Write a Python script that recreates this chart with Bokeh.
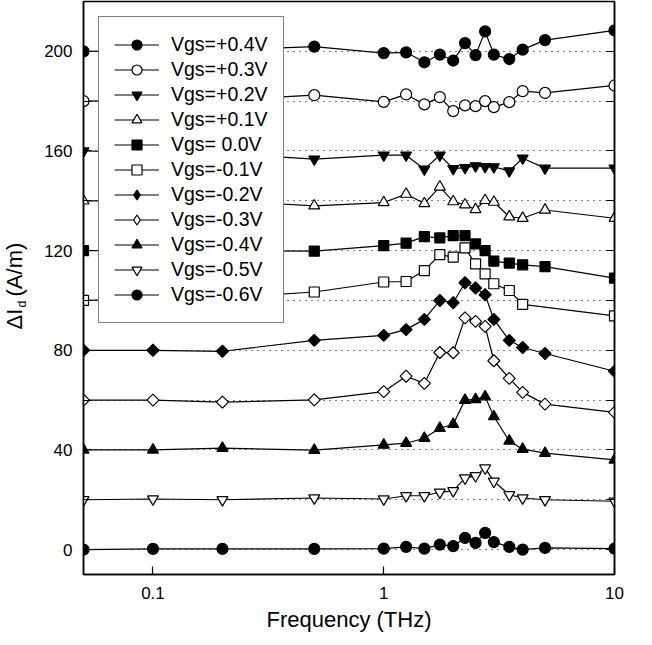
import math
from bokeh.plotting import figure
from bokeh.models import (Range1d, FixedTicker, LinearAxis, Legend, LegendItem,
                          Label, CustomJSTickFormatter, CustomLabelingPolicy)
from bokeh.embed import file_html
from bokeh.resources import INLINE

# ---------------- data ----------------
freq = [0.05, 0.1, 0.2, 0.5, 1, 1.25, 1.5, 1.75, 2, 2.25, 2.5, 2.75, 3, 3.5, 4, 5, 10]

vgs_p04 = [200, 200.3, 200.5, 201.9, 199.3, 199.6, 195.6, 198.7, 196.3, 203.3, 198.5, 208, 198.7, 196.9, 200.7, 204.5, 208.4]
vgs_p03 = [180, 180.3, 180.5, 182.4, 179.7, 182.7, 178.7, 181.6, 176, 178.3, 178, 180, 177.6, 179.6, 184, 183.3, 186.3]
vgs_p02 = [160, 159.5, 159, 156.7, 158.3, 158.3, 152.7, 158.3, 152.9, 153.3, 154, 153.7, 153.6, 152, 157.1, 153.1, 153.1]
vgs_p01 = [140, 140, 140, 138, 139.3, 142.7, 138.9, 145.6, 139.7, 138.4, 136.5, 140.2, 139.5, 133.6, 133, 136.3, 133]
vgs_000 = [120, 120, 120, 119.8, 122, 123, 125.6, 125.1, 126, 126, 122.7, 120, 115.8, 115, 114.3, 113.6, 109]
vgs_m01 = [100, 100.5, 101, 103.4, 107.4, 107.6, 112, 118.4, 117.4, 121.1, 114.7, 110.7, 106.7, 104, 98.4, None, 93.8]
vgs_m02 = [80, 80, 79.6, 84, 86, 88.3, 92.4, 100, 99.1, 107.1, 105, 102.3, 92.4, 84, 81.1, 78.7, 71.6]
vgs_m03 = [60, 60, 59.2, 60.1, 63.4, 69.6, 66.7, 79.1, 79, 93, 91.6, 89.6, 75.8, 68.7, 63.1, 58.4, 55.1]
vgs_m04 = [40, 40, 40.7, 39.9, 42, 42.7, 44.7, 48.7, 50.3, 60, 60.3, 61.4, 53.4, 43.6, 40.3, 38.7, 36]
vgs_m05 = [20, 20.3, 20, 20.7, 20.3, 21.6, 21.6, 23, 23.6, 28.7, 29.6, 32.7, 27.4, 22, 20.7, 20, 19.4]
vgs_m06 = [0, 0.3, 0.3, 0.3, 0.4, 1.1, 0.4, 2, 1.4, 4.7, 2.7, 6.7, 3, 1.1, 0, 0.7, 0.4]

series_labels = ["Vgs=+0.4V", "Vgs=+0.3V", "Vgs=+0.2V", "Vgs=+0.1V", "Vgs= 0.0V",
                 "Vgs=-0.1V", "Vgs=-0.2V", "Vgs=-0.3V", "Vgs=-0.4V", "Vgs=-0.5V", "Vgs=-0.6V"]
series_values = [vgs_p04, vgs_p03, vgs_p02, vgs_p01, vgs_000,
                 vgs_m01, vgs_m02, vgs_m03, vgs_m04, vgs_m05, vgs_m06]

y_major = [0, 40, 80, 120, 160, 200]
y_minor = [20, 60, 100, 140, 180]
y_grid = [0, 20, 40, 60, 80, 100, 120, 140, 160, 180, 200]
x_ticks = [0.1, 1, 10]

# marker styles: (marker, filled, size, angle, legend marker)
styles = [
    ("circle", True, 11, 0, None), ("circle", False, 11, 0, None),
    ("inverted_triangle", True, 11, 0, None), ("triangle", False, 11, 0, None),
    ("square", True, 10, 0, None), ("square", False, 10, 0, None),
    ("square", True, 8.5, math.pi / 4, "diamond"), ("square", False, 8.5, math.pi / 4, "diamond"),
    ("triangle", True, 11, 0, None), ("inverted_triangle", False, 11, 0, None),
    ("circle", True, 11, 0, None),
]

FONT = "Liberation Sans"

p = figure(width=636, height=637, x_axis_type="log",
           x_range=Range1d(0.05, 10), y_range=Range1d(-10, 220),
           output_backend="svg", toolbar_location=None,
           min_border_left=83, min_border_right=22, min_border_top=1,
           min_border_bottom=63)
p.background_fill_color = "white"
p.border_fill_color = "white"
p.outline_line_color = "black"
p.outline_line_width = 1.5

p.xgrid.visible = False
p.ygrid.ticker = FixedTicker(ticks=y_grid)
p.ygrid.grid_line_color = "black"
p.ygrid.grid_line_dash = "1 5"
p.ygrid.grid_line_width = 1

# left axis
ya = p.yaxis[0]
ya.ticker = FixedTicker(ticks=y_major, minor_ticks=y_minor)
ya.axis_line_width = 1.5
ya.major_tick_in = 8
ya.major_tick_out = 0
ya.minor_tick_in = 8
ya.minor_tick_out = 0
ya.major_tick_line_width = 1.2
ya.minor_tick_line_width = 1.2
ya.major_label_standoff = 11
ya.major_label_text_font = FONT
ya.major_label_text_font_size = "17px"
ya.major_label_text_color = "black"

# bottom axis
xa = p.xaxis[0]
xa.ticker = FixedTicker(ticks=x_ticks)
xa.formatter = CustomJSTickFormatter(code="return tick.toString();")
xa.axis_line_width = 1.5
xa.major_tick_in = 8
xa.major_tick_out = 0
xa.major_tick_line_width = 1.2
xa.minor_tick_line_color = None
xa.major_label_standoff = 12
xa.major_label_text_font = FONT
xa.major_label_text_font_size = "17px"
xa.major_label_text_color = "black"
xa.axis_label = "Frequency (THz)"
xa.axis_label_standoff = 5
xa.axis_label_text_font = FONT
xa.axis_label_text_font_size = "22px"
xa.axis_label_text_font_style = "normal"
xa.axis_label_text_color = "black"

# right axis (ticks only, no labels)
ra = LinearAxis(ticker=FixedTicker(ticks=y_major, minor_ticks=y_minor))
ra.axis_line_width = 1.5
ra.major_tick_in = 8
ra.major_tick_out = 0
ra.minor_tick_in = 8
ra.minor_tick_out = 0
ra.major_tick_line_width = 1.2
ra.minor_tick_line_width = 1.2
ra.major_label_text_font_size = "1px"
ra.major_label_standoff = 0
ra.major_label_policy = CustomLabelingPolicy(
    code="for (const i of indices) indices.unset(i)")
p.add_layout(ra, "right")

items = []
for lab, vals, (mk, filled, sz, ang, lmk) in zip(series_labels, series_values, styles):
    xs = [f for f, v in zip(freq, vals) if v is not None]
    ys = [v for v in vals if v is not None]
    fill = "black" if filled else "white"
    lr = p.line(xs, ys, line_color="black", line_width=1.2)
    legend_marker = None
    if lmk is not None:
        # hidden under the rotated squares; only used for the legend swatch
        legend_marker = p.scatter(xs, ys, marker=lmk, size=9, fill_color=fill,
                                  line_color="black", line_width=1.2)
    sr = p.scatter(xs, ys, marker=mk, size=sz, angle=ang,
                   fill_color=fill, line_color="black", line_width=1.2)
    items.append(LegendItem(label=lab,
                            renderers=[lr, legend_marker if legend_marker is not None else sr]))

legend = Legend(items=items, location="top_left", margin=15, padding=15,
                spacing=0, glyph_width=45, glyph_height=25, label_height=25,
                label_standoff=12, border_line_color="black",
                border_line_width=1.5, background_fill_color="white",
                background_fill_alpha=1.0,
                label_text_font=FONT, label_text_font_size="19.5px",
                label_text_color="black")
p.add_layout(legend)

# y-axis title with subscript, in the left panel
p.add_layout(Label(x=-2, y=245, x_units="screen", y_units="screen",
                   text="\u0394I\u00a0\u00a0(A/m)", angle=math.pi / 2,
                   text_align="left", text_baseline="middle", text_font=FONT,
                   text_font_size="22px", text_color="black"), "left")
p.add_layout(Label(x=19, y=267, x_units="screen", y_units="screen",
                   text="d", angle=math.pi / 2, text_align="left",
                   text_baseline="middle", text_font=FONT,
                   text_font_size="12.5px", text_color="black"), "left")

open("out.html", "w").write(file_html(p, INLINE))
